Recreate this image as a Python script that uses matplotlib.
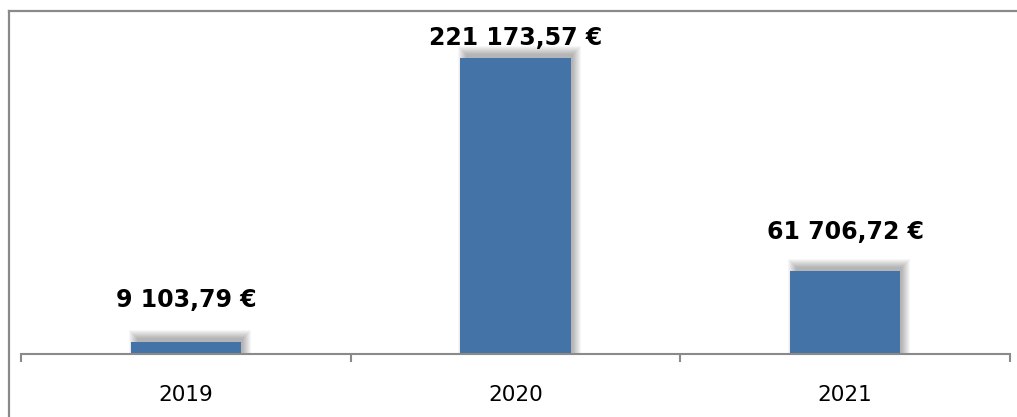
import matplotlib
matplotlib.use("Agg")
import matplotlib.pyplot as plt
from matplotlib.lines import Line2D

years = ["2019", "2020", "2021"]
amounts = [9103.79, 221173.57, 61706.72]
labels = ["9 103,79 €", "221 173,57 €", "61 706,72 €"]
label_gap = [30, 8, 27]  # px above bar top, 2020 label squeezed in the original

W, H = 1017, 417
fig = plt.figure(figsize=(W / 100, H / 100), dpi=100, facecolor="white")

# outer chart frame (only top/left edge visible in the crop)
grey = "#8a8a8a"
fig.add_artist(Line2D([9 / W, 9 / W], [0, 1 - 11 / H], transform=fig.transFigure, color=grey, lw=1.6))
fig.add_artist(Line2D([9 / W, 1], [1 - 11 / H, 1 - 11 / H], transform=fig.transFigure, color=grey, lw=1.6))

ax = fig.add_axes([21 / W, (H - 354) / H, (1010 - 21) / W, (354 - 19.4) / H])
ax.set_xlim(-0.5, 2.5)
ax.set_ylim(0, 250000)

x = list(range(len(years)))
w = 0.334
px_x = 3 / 989          # one pixel in x data units
px_y = 250000 / 334.6   # one pixel in y data units

# soft shadow: growing translucent rectangles, shifted right and up
for d in range(1, 10):
    ax.bar([i + 4 * px_x for i in x], [a + (3 + d) * px_y for a in amounts],
           width=w + 2 * d * px_x - 6 * px_x, color="black", alpha=0.035,
           linewidth=0, zorder=1)

ax.bar(x, amounts, width=w, color="#4473A7", zorder=3)

for i, a in enumerate(amounts):
    ax.annotate(labels[i], (i, a), xytext=(0, label_gap[i] * 0.72), textcoords="offset points",
                ha="center", va="bottom", fontsize=17, fontweight="bold", color="black", zorder=4)

for s in ["top", "right", "left"]:
    ax.spines[s].set_visible(False)
ax.spines["bottom"].set_color(grey)
ax.spines["bottom"].set_linewidth(1.5)
ax.spines["bottom"].set_zorder(5)

ax.set_yticks([])
ax.set_xticks(x)
ax.set_xticklabels(years, fontsize=15.5)
ax.tick_params(axis="x", which="major", length=0, pad=22)
ax.set_xticks([-0.5, 0.5, 1.5, 2.5], minor=True)
ax.tick_params(axis="x", which="minor", length=6, width=1.5, color=grey, direction="out")
ax.patch.set_alpha(0)

fig.savefig("out.png", dpi=100, facecolor="white")
